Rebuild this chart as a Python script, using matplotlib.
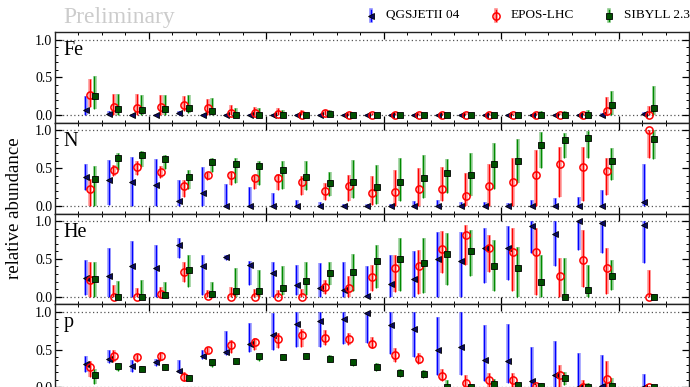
import matplotlib
matplotlib.use("Agg")
import matplotlib.pyplot as plt
from matplotlib.lines import Line2D
from matplotlib.ticker import MultipleLocator, NullFormatter

plt.rcParams['font.family'] = ['Liberation Serif', 'DejaVu Serif']

# energy bins lg(E/eV)
lgE = [17.25, 17.35, 17.45, 17.55, 17.65, 17.75, 17.85, 17.95, 18.05, 18.15, 18.25, 18.35,
       18.45, 18.55, 18.65, 18.75, 18.85, 18.95, 19.05, 19.15, 19.25, 19.35, 19.45, 19.63]

models = ["QGSJETII 04", "EPOS-LHC", "SIBYLL 2.3"]
elements = ["Fe", "N", "He", "p"]

# ---------------- Fe ----------------
fe_qgs    = [0.07, 0.02, 0.0, 0.0, 0.03, 0.0, 0.0, 0.0, 0.0, 0.0, 0.0, 0.0, 0.0, 0.0, 0.0, 0.0, 0.0, 0.0, 0.0, 0.0, 0.0, 0.0, 0.0, 0.01]
fe_qgs_lo = [0.0] * 24
fe_qgs_hi = [0.25, 0.05, 0.02, 0.02, 0.05, 0.02, 0.02, 0.02, 0.02, 0.02, 0.02, 0.02, 0.02, 0.02, 0.02, 0.02, 0.02, 0.02, 0.02, 0.02, 0.02, 0.02, 0.03, 0.04]
fe_epos    = [0.27, 0.11, 0.10, 0.11, 0.13, 0.09, 0.03, 0.03, 0.01, 0.0, 0.03, 0.0, 0.0, 0.0, 0.0, 0.0, 0.0, 0.0, 0.0, 0.0, 0.0, 0.0, 0.06, 0.0]
fe_epos_lo = [0.11, 0.0, 0.0, 0.0, 0.05, 0.0, 0.0, 0.0, 0.0, 0.0, 0.0, 0.0, 0.0, 0.0, 0.0, 0.0, 0.0, 0.0, 0.0, 0.0, 0.0, 0.0, 0.0, 0.0]
fe_epos_hi = [0.48, 0.28, 0.28, 0.27, 0.25, 0.22, 0.14, 0.11, 0.09, 0.07, 0.07, 0.03, 0.03, 0.03, 0.03, 0.03, 0.03, 0.03, 0.03, 0.03, 0.03, 0.03, 0.24, 0.12]
fe_sib    = [0.25, 0.08, 0.07, 0.08, 0.10, 0.06, 0.0, 0.0, 0.0, 0.0, 0.01, 0.0, 0.0, 0.0, 0.0, 0.0, 0.0, 0.0, 0.0, 0.0, 0.0, 0.0, 0.13, 0.10]
fe_sib_lo = [0.08, 0.0, 0.0, 0.0, 0.03, 0.0, 0.0, 0.0, 0.0, 0.0, 0.0, 0.0, 0.0, 0.0, 0.0, 0.0, 0.0, 0.0, 0.0, 0.0, 0.0, 0.0, 0.0, 0.0]
fe_sib_hi = [0.52, 0.28, 0.27, 0.27, 0.27, 0.23, 0.10, 0.09, 0.07, 0.03, 0.07, 0.03, 0.03, 0.03, 0.03, 0.03, 0.03, 0.03, 0.04, 0.05, 0.06, 0.07, 0.32, 0.38]

# ---------------- N ----------------
n_qgs    = [0.38, 0.34, 0.31, 0.28, 0.06, 0.17, 0.0, 0.0, 0.0, 0.0, 0.0, 0.0, 0.0, 0.0, 0.0, 0.0, 0.0, 0.0, 0.0, 0.0, 0.0, 0.0, 0.0, 0.05]
n_qgs_lo = [0.21, 0.01, 0.0, 0.0, 0.0, 0.0, 0.0, 0.0, 0.0, 0.0, 0.0, 0.0, 0.0, 0.0, 0.0, 0.0, 0.0, 0.0, 0.0, 0.0, 0.0, 0.0, 0.0, 0.0]
n_qgs_hi = [0.56, 0.61, 0.65, 0.62, 0.34, 0.51, 0.29, 0.25, 0.17, 0.08, 0.05, 0.03, 0.02, 0.03, 0.06, 0.08, 0.05, 0.05, 0.04, 0.08, 0.11, 0.12, 0.21, 0.56]
n_epos    = [0.23, 0.47, 0.51, 0.45, 0.26, 0.41, 0.41, 0.37, 0.37, 0.31, 0.20, 0.26, 0.17, 0.19, 0.22, 0.22, 0.13, 0.26, 0.31, 0.41, 0.56, 0.52, 0.46, 1.0]
n_epos_lo = [0.0, 0.39, 0.41, 0.37, 0.12, 0.34, 0.28, 0.23, 0.21, 0.15, 0.08, 0.06, 0.01, 0.0, 0.0, 0.06, 0.0, 0.0, 0.0, 0.0, 0.12, 0.06, 0.15, 0.64]
n_epos_hi = [0.36, 0.54, 0.59, 0.53, 0.34, 0.45, 0.45, 0.41, 0.42, 0.39, 0.30, 0.41, 0.39, 0.48, 0.50, 0.51, 0.43, 0.56, 0.64, 0.74, 0.78, 0.78, 0.64, 1.0]
n_sib    = [0.35, 0.64, 0.67, 0.62, 0.38, 0.58, 0.56, 0.53, 0.47, 0.38, 0.30, 0.32, 0.25, 0.32, 0.37, 0.43, 0.41, 0.56, 0.60, 0.80, 0.87, 0.90, 0.59, 0.89]
n_sib_lo = [0.0, 0.48, 0.51, 0.49, 0.23, 0.45, 0.30, 0.28, 0.23, 0.21, 0.13, 0.10, 0.02, 0.06, 0.10, 0.17, 0.13, 0.23, 0.30, 0.50, 0.63, 0.63, 0.34, 0.62]
n_sib_hi = [0.53, 0.70, 0.73, 0.67, 0.48, 0.63, 0.63, 0.59, 0.59, 0.59, 0.45, 0.61, 0.54, 0.64, 0.68, 0.62, 0.70, 0.83, 0.89, 0.98, 0.96, 0.99, 0.76, 1.0]

# ---------------- He ----------------
he_qgs    = [0.25, 0.27, 0.40, 0.38, 0.69, 0.40, 0.53, 0.42, 0.31, 0.15, 0.11, 0.09, 0.01, 0.17, 0.23, 0.50, 0.47, 0.64, 0.65, 0.93, 0.83, 1.0, 0.97, 0.95]
he_qgs_lo = [0.02, 0.0, 0.0, 0.0, 0.51, 0.02, 0.49, 0.15, 0.0, 0.02, 0.0, 0.0, 0.0, 0.0, 0.0, 0.0, 0.0, 0.18, 0.22, 0.58, 0.40, 0.62, 0.58, 0.44]
he_qgs_hi = [0.49, 0.64, 0.73, 0.69, 0.77, 0.55, 0.55, 0.47, 0.46, 0.42, 0.44, 0.46, 0.41, 0.55, 0.60, 0.85, 0.85, 0.91, 0.93, 1.0, 1.0, 1.0, 1.0, 1.0]
he_epos    = [0.22, 0.0, 0.0, 0.03, 0.33, 0.01, 0.0, 0.0, 0.0, 0.0, 0.13, 0.11, 0.26, 0.38, 0.40, 0.63, 0.82, 0.64, 0.59, 0.59, 0.27, 0.48, 0.38, 0.0]
he_epos_lo = [0.0, 0.0, 0.0, 0.0, 0.20, 0.0, 0.0, 0.0, 0.0, 0.0, 0.04, 0.0, 0.07, 0.06, 0.04, 0.31, 0.42, 0.32, 0.07, 0.02, 0.0, 0.13, 0.04, 0.0]
he_epos_hi = [0.46, 0.16, 0.12, 0.13, 0.46, 0.09, 0.13, 0.10, 0.09, 0.10, 0.22, 0.27, 0.42, 0.55, 0.62, 0.87, 0.95, 0.82, 0.91, 0.91, 0.51, 0.88, 0.64, 0.35]
he_sib    = [0.24, 0.0, 0.0, 0.02, 0.35, 0.04, 0.08, 0.07, 0.12, 0.21, 0.31, 0.33, 0.47, 0.50, 0.45, 0.57, 0.60, 0.40, 0.38, 0.20, 0.0, 0.09, 0.27, 0.0]
he_sib_lo = [0.0, 0.0, 0.0, 0.0, 0.13, 0.0, 0.0, 0.0, 0.02, 0.02, 0.15, 0.07, 0.12, 0.08, 0.05, 0.15, 0.27, 0.07, 0.0, 0.0, 0.0, 0.0, 0.09, 0.0]
he_sib_hi = [0.46, 0.21, 0.22, 0.20, 0.55, 0.20, 0.38, 0.35, 0.40, 0.46, 0.46, 0.56, 0.69, 0.78, 0.77, 0.84, 0.88, 0.75, 0.66, 0.55, 0.51, 0.42, 0.49, 0.04]

# ---------------- p ----------------
p_qgs    = [0.31, 0.38, 0.29, 0.34, 0.22, 0.42, 0.47, 0.58, 0.69, 0.84, 0.88, 0.91, 0.99, 0.83, 0.77, 0.50, 0.53, 0.36, 0.35, 0.08, 0.17, 0.0, 0.02, 0.0]
p_qgs_lo = [0.21, 0.32, 0.21, 0.28, 0.19, 0.37, 0.43, 0.47, 0.50, 0.53, 0.54, 0.58, 0.59, 0.44, 0.40, 0.16, 0.16, 0.08, 0.06, 0.0, 0.0, 0.0, 0.0, 0.0]
p_qgs_hi = [0.41, 0.50, 0.36, 0.38, 0.36, 0.50, 0.75, 0.85, 0.98, 1.0, 1.0, 1.0, 1.0, 1.0, 1.0, 0.93, 1.0, 0.83, 0.84, 0.54, 0.61, 0.45, 0.43, 0.18]
p_epos    = [0.27, 0.42, 0.40, 0.42, 0.14, 0.49, 0.56, 0.60, 0.64, 0.69, 0.65, 0.64, 0.58, 0.43, 0.38, 0.15, 0.06, 0.10, 0.10, 0.02, 0.16, 0.0, 0.11, 0.0]
p_epos_lo = [0.14, 0.34, 0.34, 0.35, 0.08, 0.44, 0.45, 0.50, 0.52, 0.54, 0.56, 0.56, 0.52, 0.34, 0.31, 0.08, 0.0, 0.0, 0.0, 0.0, 0.0, 0.0, 0.0, 0.0]
p_epos_hi = [0.35, 0.50, 0.44, 0.47, 0.21, 0.54, 0.63, 0.66, 0.72, 0.77, 0.76, 0.72, 0.67, 0.52, 0.46, 0.25, 0.16, 0.19, 0.19, 0.05, 0.30, 0.10, 0.35, 0.02]
p_sib    = [0.16, 0.28, 0.25, 0.27, 0.13, 0.33, 0.35, 0.41, 0.40, 0.42, 0.38, 0.34, 0.27, 0.19, 0.18, 0.0, 0.0, 0.05, 0.03, 0.02, 0.13, 0.0, 0.02, 0.0]
p_sib_lo = [0.05, 0.22, 0.22, 0.23, 0.10, 0.27, 0.31, 0.35, 0.36, 0.38, 0.33, 0.28, 0.22, 0.14, 0.12, 0.0, 0.0, 0.0, 0.0, 0.0, 0.03, 0.0, 0.0, 0.0]
p_sib_hi = [0.24, 0.32, 0.28, 0.31, 0.16, 0.37, 0.38, 0.43, 0.44, 0.46, 0.43, 0.38, 0.32, 0.25, 0.23, 0.10, 0.05, 0.11, 0.06, 0.06, 0.21, 0.06, 0.12, 0.02]

panels = {
    "Fe": [(fe_qgs, fe_qgs_lo, fe_qgs_hi), (fe_epos, fe_epos_lo, fe_epos_hi), (fe_sib, fe_sib_lo, fe_sib_hi)],
    "N":  [(n_qgs, n_qgs_lo, n_qgs_hi), (n_epos, n_epos_lo, n_epos_hi), (n_sib, n_sib_lo, n_sib_hi)],
    "He": [(he_qgs, he_qgs_lo, he_qgs_hi), (he_epos, he_epos_lo, he_epos_hi), (he_sib, he_sib_lo, he_sib_hi)],
    "p":  [(p_qgs, p_qgs_lo, p_qgs_hi), (p_epos, p_epos_lo, p_epos_hi), (p_sib, p_sib_lo, p_sib_hi)],
}

# styles
offsets = [-0.02, 0.0, 0.02]
line_colors = ['#0000ff', '#ff0000', '#008a00']
marker_kw = [
    dict(marker='<', ms=4.6, mfc='#0a0a60', mec='black', mew=0.6),
    dict(marker='o', ms=5.2, mfc='none', mec='#ff0000', mew=1.1),
    dict(marker='s', ms=3.8, mfc='#005000', mec='black', mew=0.6),
]

W, H = 690, 387
fig = plt.figure(figsize=(6.9, 3.87), dpi=100)

left_px, right_px = 55, 689
top_px = 32
ph = 90.75

for k, el in enumerate(elements):
    t = top_px + k * ph
    ax = fig.add_axes([left_px / W, 1 - (t + ph) / H, (right_px - left_px) / W, ph / H])
    ax.set_xlim(17.1, 19.8)
    ax.set_ylim(-0.1, 1.1)
    ax.axhline(0, color='#555555', ls=(0, (1, 2)), lw=0.9, zorder=1)
    ax.axhline(1, color='#555555', ls=(0, (1, 2)), lw=0.9, zorder=1)
    for j, (vals, lo, hi) in enumerate(panels[el]):
        xs = [x + offsets[j] for x in lgE]
        c = line_colors[j]
        ax.vlines(xs, lo, hi, colors=c, lw=2.6, alpha=0.4, zorder=2)
        ax.vlines([x - 0.002 for x in xs], lo, hi, colors=c, lw=0.9, zorder=3)
        ax.plot(xs, vals, ls='none', zorder=4, **marker_kw[j])
    ax.text(0.014, 0.90, el, transform=ax.transAxes, fontsize=14.5, va='top', ha='left')
    ax.xaxis.set_major_locator(MultipleLocator(0.5))
    ax.xaxis.set_minor_locator(MultipleLocator(0.1))
    ax.yaxis.set_major_locator(MultipleLocator(0.5))
    ax.yaxis.set_minor_locator(MultipleLocator(0.1))
    ax.xaxis.set_major_formatter(NullFormatter())
    ax.set_yticks([0.0, 0.5, 1.0])
    ax.set_yticklabels(['0.0', '0.5', '1.0'])
    ax.tick_params(which='both', direction='in', top=True, right=True, labelsize=10, pad=2)
    ax.tick_params(which='major', length=5, width=0.9)
    ax.tick_params(which='minor', length=2.5, width=0.7)
    for s in ax.spines.values():
        s.set_linewidth(1.0)
        s.set_color('#222222')

fig.text(15 / W, 1 - 208 / H, 'relative abundance', rotation=90, fontsize=13.5,
         ha='center', va='center')
fig.text(63 / W, 1 - 17 / H, 'Preliminary', fontsize=17, color='#cccccc',
         ha='left', va='center')

# legend
leg_x = [371, 496, 609]
for j, name in enumerate(models):
    x = leg_x[j] / W
    fig.add_artist(Line2D([x, x], [1 - 10 / H, 1 - 21 / H], color=line_colors[j], lw=2.6,
                          alpha=0.45, transform=fig.transFigure))
    fig.add_artist(Line2D([x, x], [1 - 10 / H, 1 - 21 / H], color=line_colors[j], lw=0.9,
                          transform=fig.transFigure))
    fig.add_artist(Line2D([x], [1 - 15.5 / H], ls='none', transform=fig.transFigure, **marker_kw[j]))
    fig.text(x + 15 / W, 1 - 15.5 / H, name, fontsize=9.5, ha='left', va='center')

fig.savefig('out.png', dpi=100)
